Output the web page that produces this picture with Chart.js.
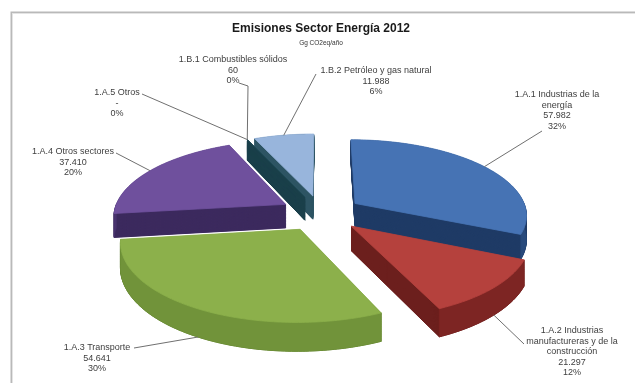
<!DOCTYPE html>
<html><head><meta charset="utf-8">
<script src="https://cdn.jsdelivr.net/npm/chart.js@4.4.1/dist/chart.umd.min.js"></script>
<style>html,body{margin:0;padding:0;background:#fff;overflow:hidden}</style>
</head><body>
<canvas id="c" width="635" height="383"></canvas>
<script>
// ---- data ----
const categories = [
  ['1.A.1 Industrias de la', 'energía'],
  ['1.A.2 Industrias', 'manufactureras y de la', 'construcción'],
  ['1.A.3 Transporte'],
  ['1.A.4 Otros sectores'],
  ['1.A.5 Otros'],
  ['1.B.1 Combustibles sólidos'],
  ['1.B.2 Petróleo y gas natural']
];
const emissions = [57982, 21297, 54641, 37410, 0, 60, 11988];
const percentLabels = ['32%', '12%', '30%', '20%', '0%', '0%', '6%'];
const titleText = 'Emisiones Sector Energía 2012';
const subtitleText = 'Gg CO2eq/año';

// ---- styles ----
const faceColors = ['#4673b4', '#b5413d', '#8cb04b', '#6f509d', '#4bacc6', '#1f4a56', '#98b5dc'];
const sideColors = ['#1f3b66', '#6c1f1d', '#5f7f2a', '#3c2a5e', '#2a6f80', '#1a3f4a', '#2d5463'];
const wallColors = ['#284a7c', '#7d2523', '#71933a', '#4a3470', '#2a6f80', '#1a3f4a', '#5d7ea6'];
const VIEW = {ax: 1.057, by: 0.461, depth: 0.147, persp: 0.14, explode: 0.24};
// label text anchor (centre of first line) and leader start
const labelLayout = [
  {x: 557, y: 95, from: [[542, 131]]},
  {x: 572, y: 331, from: [[524, 344]]},
  {x: 97, y: 348, from: [[134, 348]]},
  {x: 73, y: 152, from: [[116, 153]]},
  {x: 117, y: 93, from: [[142, 94]]},
  {x: 233, y: 60, from: [[239, 83], [248, 86]]},
  {x: 376, y: 71, from: [[316, 74]]}
];

const fmt = v => v === 0 ? '-' : String(v).replace(/\B(?=(\d{3})+(?!\d))/g, '.');

function geoms(chart) {
  const meta = chart.getDatasetMeta(0);
  return meta.data.map((el, i) => {
    const p = el.getProps(['x', 'y', 'startAngle', 'endAngle', 'outerRadius'], true);
    const m = (p.startAngle + p.endAngle) / 2;
    return Object.assign({i, m, ox: VIEW.explode * Math.cos(m), oy: VIEW.explode * Math.sin(m)}, p);
  });
}
function project(g, x, y, z) {
  const R = g.outerRadius, w = 1 - VIEW.persp * y;
  return [g.x + VIEW.ax * R * x / w, g.y + VIEW.by * R * y / w + z * VIEW.depth * R / w];
}
function arcPts(g, a0, a1) {
  const pts = [], span = a1 - a0;
  const n = Math.max(1, Math.ceil(Math.abs(span) / (Math.PI / 180)));
  for (let k = 0; k <= n; k++) {
    const t = a0 + span * k / n;
    pts.push([g.ox + Math.cos(t), g.oy + Math.sin(t)]);
  }
  return pts;
}
function poly(ctx, g, pts, zs, color, lw) {
  ctx.beginPath();
  pts.forEach((p, k) => {
    const q = project(g, p[0], p[1], zs[k]);
    if (k) ctx.lineTo(q[0], q[1]); else ctx.moveTo(q[0], q[1]);
  });
  ctx.closePath();
  ctx.fillStyle = color; ctx.fill();
  if (lw) { ctx.strokeStyle = color; ctx.lineWidth = lw; ctx.lineJoin = 'round'; ctx.stroke(); }
}

const pie3d = {
  id: 'pie3d',
  beforeDraw(chart) {
    const ctx = chart.ctx;
    ctx.save();
    ctx.fillStyle = '#fff'; ctx.fillRect(0, 0, chart.width, chart.height);
    ctx.strokeStyle = '#e4e4e4'; ctx.lineWidth = 1;
    ctx.strokeRect(12.5, 13.5, 700, 500);
    ctx.strokeStyle = '#b9b9b9'; ctx.lineWidth = 1.5;
    ctx.strokeRect(11.25, 12.25, 700, 500);
    ctx.restore();
  },
  beforeDatasetsDraw(chart) {
    const ctx = chart.ctx;
    const gs = geoms(chart).filter(g => g.endAngle - g.startAngle > 0);
    gs.sort((a, b) => a.oy - b.oy);
    ctx.save();
    gs.forEach(g => {
      const i = g.i;
      const top = [[g.ox, g.oy]].concat(arcPts(g, g.startAngle, g.endAngle));
      const steps = 40;
      for (let s = steps; s >= 1; s--) {
        const z = s / steps;
        poly(ctx, g, top, top.map(() => z), sideColors[i], 1);
      }
      // front-facing outer wall
      const a0 = Math.max(g.startAngle, 0), a1 = Math.min(g.endAngle, Math.PI);
      if (a1 > a0) {
        const arc = arcPts(g, a0, a1);
        const strip = arc.concat(arc.slice().reverse());
        const zs = arc.map(() => 0).concat(arc.map(() => 1));
        poly(ctx, g, strip, zs, wallColors[i], 0.6);
      }
      poly(ctx, g, top, top.map(() => 0), faceColors[i], 0.8);
    });
    ctx.restore();
    return false;
  },
  afterDraw(chart) {
    const ctx = chart.ctx;
    const gs = geoms(chart);
    ctx.save();
    ctx.font = '9px "Liberation Sans", Arial, sans-serif';
    ctx.textAlign = 'center'; ctx.textBaseline = 'middle';
    gs.forEach(g => {
      const i = g.i, L = labelLayout[i];
      const front = Math.sin(g.m) > 0;
      const end = project(g, g.ox + Math.cos(g.m), g.oy + Math.sin(g.m), front ? 1 : 0);
      ctx.strokeStyle = '#707070'; ctx.lineWidth = 1;
      ctx.beginPath();
      L.from.forEach((p, k) => k ? ctx.lineTo(p[0], p[1]) : ctx.moveTo(p[0], p[1]));
      ctx.lineTo(end[0], end[1]);
      ctx.stroke();
      const lines = categories[i].concat([fmt(emissions[i]), percentLabels[i]]);
      ctx.fillStyle = '#404040';
      lines.forEach((t, k) => ctx.fillText(t, L.x, L.y + k * 10.5));
    });
    ctx.restore();
  }
};

new Chart(document.getElementById('c'), {
  type: 'pie',
  data: {
    labels: categories,
    datasets: [{data: emissions, backgroundColor: faceColors, borderWidth: 0}]
  },
  options: {
    responsive: false,
    animation: false,
    devicePixelRatio: 1,
    layout: {padding: {left: 7, right: 0, top: 0, bottom: 7}},
    plugins: {
      legend: {display: false},
      tooltip: {enabled: false},
      title: {display: true, text: titleText, color: '#1a1a1a',
        font: {family: '"Liberation Sans", Arial, sans-serif', size: 12, weight: 'bold'},
        padding: {top: 21, bottom: 1}},
      subtitle: {display: true, text: subtitleText, color: '#333',
        font: {family: '"Liberation Sans", Arial, sans-serif', size: 6.5},
        padding: {top: 3, bottom: 3}}
    }
  },
  plugins: [pie3d]
});
</script>
</body></html>
